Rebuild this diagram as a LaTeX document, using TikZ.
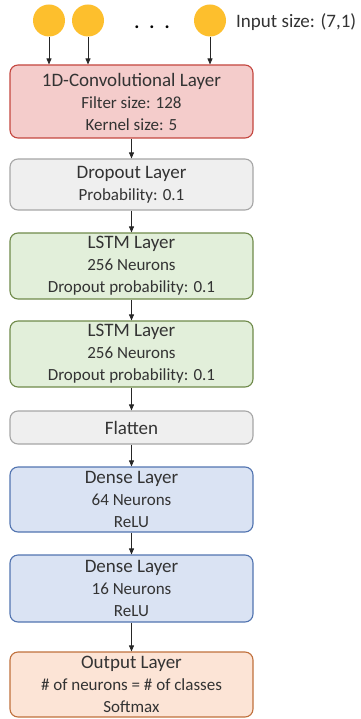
\documentclass[tikz,border=0pt]{standalone}
\usepackage{fontspec}
\setmainfont{Carlito}
\usetikzlibrary{arrows.meta}

\definecolor{txtgray}{HTML}{333333}
\definecolor{inputgold}{HTML}{FDBF2D}
\definecolor{convfill}{HTML}{F4CCCB}
\definecolor{convline}{HTML}{C4463F}
\definecolor{dropfill}{HTML}{EFEFEF}
\definecolor{dropline}{HTML}{A6A6A6}
\definecolor{lstmfill}{HTML}{E2EFDA}
\definecolor{lstmline}{HTML}{6F8A4A}
\definecolor{densefill}{HTML}{DAE3F3}
\definecolor{denseline}{HTML}{5274B0}
\definecolor{outfill}{HTML}{FCE4D6}
\definecolor{outline}{HTML}{C0703C}

\newcommand{\lname}{\fontsize{19}{22}\selectfont}

\tikzset{
  layer/.style={draw, rounded corners=8pt, line width=1.1pt, minimum width=243pt,
    align=center, text=txtgray, inner sep=0pt, font=\fontsize{17}{22}\selectfont},
  conv/.style={layer, fill=convfill, draw=convline},
  drop/.style={layer, fill=dropfill, draw=dropline},
  lstm/.style={layer, fill=lstmfill, draw=lstmline},
  dense/.style={layer, fill=densefill, draw=denseline},
  outlayer/.style={layer, fill=outfill, draw=outline},
  inputnode/.style={circle, fill=inputgold, minimum size=32pt, inner sep=0pt},
  flow/.style={-{Triangle[length=6pt,width=5pt]}, line width=0.8pt, black!85}
}

\begin{document}
\begin{tikzpicture}[x=1pt,y=1pt]
	\useasboundingbox (0,0) rectangle (360,-719);
	% input units
	\node [inputnode] (in1) at (49,-20.5) {};
	\node [inputnode] (in2) at (88,-20.5) {};
	\node [inputnode] (in3) at (210,-20.5) {};
	\node [text=black, anchor=base, font=\lname\bfseries] (dots) at (152,-28.5) {.\hspace{10pt}.\hspace{10pt}.};
	\node [text=txtgray, anchor=west, inner sep=0pt, font=\lname] (insize) at (236,-22.5) {Input size: (7,1)};
	% layers, top to bottom
	\node [conv, minimum height=73pt] (conv1) at (131.5,-101.5)
		{{\lname 1D-Convolutional Layer}\\Filter size: 128\\Kernel size: 5};
	\node [drop, minimum height=51pt] (drop1) at (131.5,-184.5)
		{{\lname Dropout Layer}\\Probability: 0.1};
	\node [lstm, minimum height=66pt] (lstm1) at (131.5,-266)
		{{\lname LSTM Layer}\\256 Neurons\\Dropout probability: 0.1};
	\node [lstm, minimum height=66pt] (lstm2) at (131.5,-354)
		{{\lname LSTM Layer}\\256 Neurons\\Dropout probability: 0.1};
	\node [drop, minimum height=33pt] (flat) at (131.5,-427.5)
		{{\lname Flatten}};
	\node [dense, minimum height=65pt] (dense1) at (131.5,-499.5)
		{{\lname Dense Layer}\\64 Neurons\\ReLU};
	\node [dense, minimum height=67pt] (dense2) at (131.5,-588.5)
		{{\lname Dense Layer}\\16 Neurons\\ReLU};
	\node [outlayer, minimum height=65pt] (out) at (131.5,-684.5)
		{{\lname Output Layer}\\\# of neurons = \# of classes\\Softmax};
	% connections
	\foreach \n in {in1,in2,in3}
		\draw [flow] (\n) -- (\n |- conv1.north);
	\draw [flow] (conv1) -- (drop1);
	\draw [flow] (drop1) -- (lstm1);
	\draw [flow] (lstm1) -- (lstm2);
	\draw [flow] (lstm2) -- (flat);
	\draw [flow] (flat) -- (dense1);
	\draw [flow] (dense1) -- (dense2);
	\draw [flow] (dense2) -- (out);
\end{tikzpicture}
\end{document}
